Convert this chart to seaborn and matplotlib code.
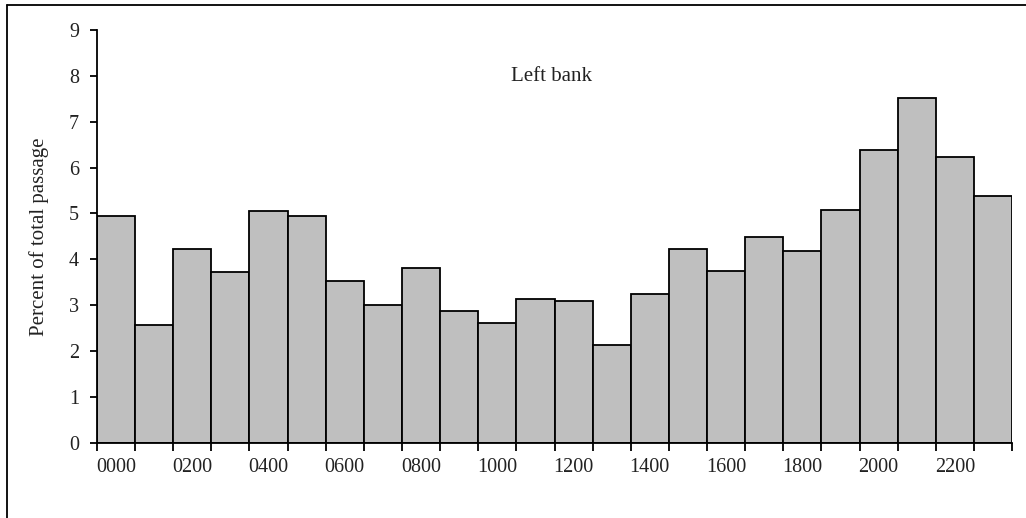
import matplotlib
matplotlib.use("Agg")
import matplotlib.pyplot as plt
import seaborn as sns
import pandas as pd
import numpy as np
from matplotlib.lines import Line2D

# Hourly share of total passage, left bank
hours = [f"{h:02d}00" for h in range(24)]
percent = [4.95, 2.56, 4.23, 3.73, 5.05, 4.94, 3.53, 3.00, 3.80, 2.87, 2.60, 3.13,
           3.09, 2.12, 3.24, 4.22, 3.74, 4.48, 4.17, 5.08, 6.38, 7.51, 6.24, 5.37]
tick_labels = [hours[i] for i in range(0, 24, 2)]
y_ticks = list(range(0, 10))

sns.set_theme(style="white")
plt.rcParams["font.family"] = ["Liberation Serif", "DejaVu Serif"]

df = pd.DataFrame({"hour": hours, "percent": percent})

fig = plt.figure(figsize=(10.26, 5.18), dpi=100)
ax = fig.add_axes([0.0945, 0.1454, 0.8919, 0.7967])

sns.barplot(data=df, x="hour", y="percent", order=hours, color="#bfbfbf",
            saturation=1, width=1.0, edgecolor="black", linewidth=1.3, ax=ax)

ax.set_xlim(-0.5, 23.5)
ax.set_ylim(0, 9)
ax.set_yticks(y_ticks)
ax.set_yticklabels([str(v) for v in y_ticks], fontsize=14.5, color="#222222")

major_pos = list(range(0, 24, 2))
ax.set_xticks(major_pos)
ax.set_xticklabels(tick_labels, fontsize=14.5, color="#222222")
ax.set_xticks(np.arange(-0.5, 24.0, 1.0), minor=True)
ax.tick_params(axis="x", which="major", length=0, pad=11)
ax.tick_params(axis="x", which="minor", length=6, width=1.3, color="black",
               direction="out", bottom=True)
ax.tick_params(axis="y", which="major", length=5, width=1.3, color="black",
               direction="out", left=True, pad=8)

ax.set_xlabel("")
ax.set_ylabel("Percent of total passage", fontsize=15, color="#222222", labelpad=14)

for side in ["top", "right"]:
    ax.spines[side].set_visible(False)
for side in ["left", "bottom"]:
    ax.spines[side].set_color("black")
    ax.spines[side].set_linewidth(1.3)

ax.text(0.497, 0.888, "Left bank", transform=ax.transAxes, ha="center",
        va="center", fontsize=15, color="#222222")

# Outer frame around the chart
W, H = 1026, 518
fig.add_artist(Line2D([7 / W, 7 / W], [0, 1 - 5 / H], transform=fig.transFigure,
                      color="black", linewidth=1.3))
fig.add_artist(Line2D([7 / W, 1], [1 - 5 / H, 1 - 5 / H], transform=fig.transFigure,
                      color="black", linewidth=1.3))

fig.savefig("out.png", dpi=100)
